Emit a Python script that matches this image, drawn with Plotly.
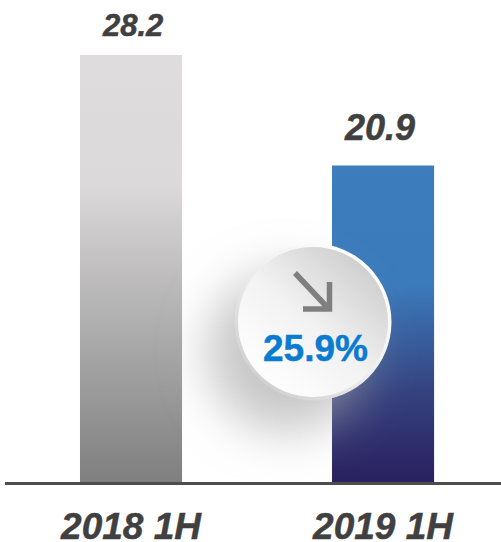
import base64
import plotly.graph_objects as go

categories = ["2018 1H", "2019 1H"]
values = [28.2, 20.9]
value_labels = ["28.2", "20.9"]
label_sizes = [31, 36]
label_gaps = [16, 22]
label_xshifts = [1, -4]
change_label = "25.9%"

W, H = 501, 542
ML, MB = 5, 60
PW, PH = W - ML, H - MB

badge_svg = """<svg xmlns="http://www.w3.org/2000/svg" width="320" height="320" viewBox="0 0 320 320">
<defs>
<filter id="b" x="-50%" y="-50%" width="200%" height="200%"><feGaussianBlur stdDeviation="24"/></filter>
<linearGradient id="rim" x1="0.15" y1="0.9" x2="0.85" y2="0.1">
<stop offset="0" stop-color="#cfcfcf"/><stop offset="0.45" stop-color="#ececec"/><stop offset="1" stop-color="#ffffff"/></linearGradient>
<linearGradient id="face" x1="0.2" y1="0.85" x2="0.85" y2="0.12">
<stop offset="0" stop-color="#fdfdfd"/><stop offset="0.45" stop-color="#f2f2f2"/><stop offset="1" stop-color="#cfcfcf"/></linearGradient>
</defs>
<circle cx="134" cy="190" r="80" fill="#a8a8a8" fill-opacity="0.65" filter="url(#b)"/>
<circle cx="160" cy="160" r="78.5" fill="url(#rim)"/>
<circle cx="160" cy="160" r="75" fill="url(#face)"/>
<g stroke="#7f7f7f" stroke-width="5.5" fill="none">
<line x1="142" y1="111" x2="174" y2="145"/>
<path d="M150 147 H176.5 V120" stroke-linejoin="miter"/>
</g>
</svg>"""
badge_uri = "data:image/svg+xml;base64," + base64.b64encode(badge_svg.encode()).decode()

fig = go.Figure(
    go.Bar(
        x=[0, 1],
        y=values,
        width=0.405,
        marker=dict(color=["#b0b0b0", "#3b6fae"], line=dict(width=0)),
        hoverinfo="skip",
    )
)

for xv, yv, txt, size, gap, dx in zip([0, 1], values, value_labels, label_sizes, label_gaps, label_xshifts):
    fig.add_annotation(
        x=xv, y=yv, text=txt, showarrow=False, xanchor="center", yanchor="bottom",
        yshift=gap - 6, xshift=dx,
        font=dict(family="Liberation Sans", size=size, color="#404040",
                  weight="bold", style="italic"),
    )

fig.add_layout_image(
    source=badge_uri, xref="paper", yref="paper",
    x=(313 - 160 - ML) / PW, y=1 - (322 - 160) / PH,
    sizex=320 / PW, sizey=320 / PH,
    xanchor="left", yanchor="top", sizing="stretch", layer="above",
)

fig.add_annotation(
    text=change_label, xref="paper", yref="paper",
    x=(315 - ML) / PW, y=1 - 348 / PH, showarrow=False,
    xanchor="center", yanchor="middle",
    font=dict(family="Liberation Sans", size=37, color="#0a7bd1", weight="bold"),
)

fig.update_layout(
    width=W, height=H,
    margin=dict(l=ML, r=0, t=0, b=MB, pad=0, autoexpand=False),
    paper_bgcolor="white", plot_bgcolor="white",
    showlegend=False,
    xaxis=dict(
        range=[-0.5, 1.468], tickmode="array", tickvals=[0, 1], ticktext=categories,
        automargin=False,
        showgrid=False, zeroline=False, showline=True, linecolor="#4d4d4d", linewidth=3,
        ticks="outside", ticklen=10, tickcolor="rgba(0,0,0,0)",
        tickfont=dict(family="Liberation Sans", size=37, color="#404040",
                      weight="bold", style="italic"),
    ),
    yaxis=dict(range=[0, 31.83], visible=False),
)

post = """
document.documentElement.style.margin = '0';
document.body.style.margin = '0';
document.body.style.overflow = 'hidden';
var gd = document.getElementById('{plot_id}');
function applyGrad() {
  var svg = gd.querySelector('svg.main-svg');
  var ns = 'http://www.w3.org/2000/svg';
  var defs = svg.querySelector('defs');
  var specs = [
    ['barGradA', [[0,'#dedcdd'],[0.3,'#dbd9da'],[1,'#7f7f7f']]],
    ['barGradB', [[0,'#3c7dbe'],[0.38,'#3b7abb'],[0.72,'#35417f'],[1,'#2a205e']]]
  ];
  specs.forEach(function(s) {
    if (svg.querySelector('#' + s[0])) return;
    var g = document.createElementNS(ns, 'linearGradient');
    g.setAttribute('id', s[0]);
    g.setAttribute('x1','0'); g.setAttribute('y1','0'); g.setAttribute('x2','0'); g.setAttribute('y2','1');
    s[1].forEach(function(p) {
      var st = document.createElementNS(ns, 'stop');
      st.setAttribute('offset', p[0]); st.setAttribute('stop-color', p[1]);
      g.appendChild(st);
    });
    defs.appendChild(g);
  });
  gd.querySelectorAll('.bars .point path').forEach(function(p, i) {
    p.style.fill = 'url(#' + specs[i][0] + ')';
  });
  gd.querySelectorAll('.annotation-text, .xtick text').forEach(function(t) {
    t.style.stroke = t.style.fill;
    t.style.strokeWidth = '0.5px';
  });
}
applyGrad();
gd.on('plotly_afterplot', applyGrad);
"""

fig.write_html("out.html", post_script=post, config=dict(displayModeBar=False))
